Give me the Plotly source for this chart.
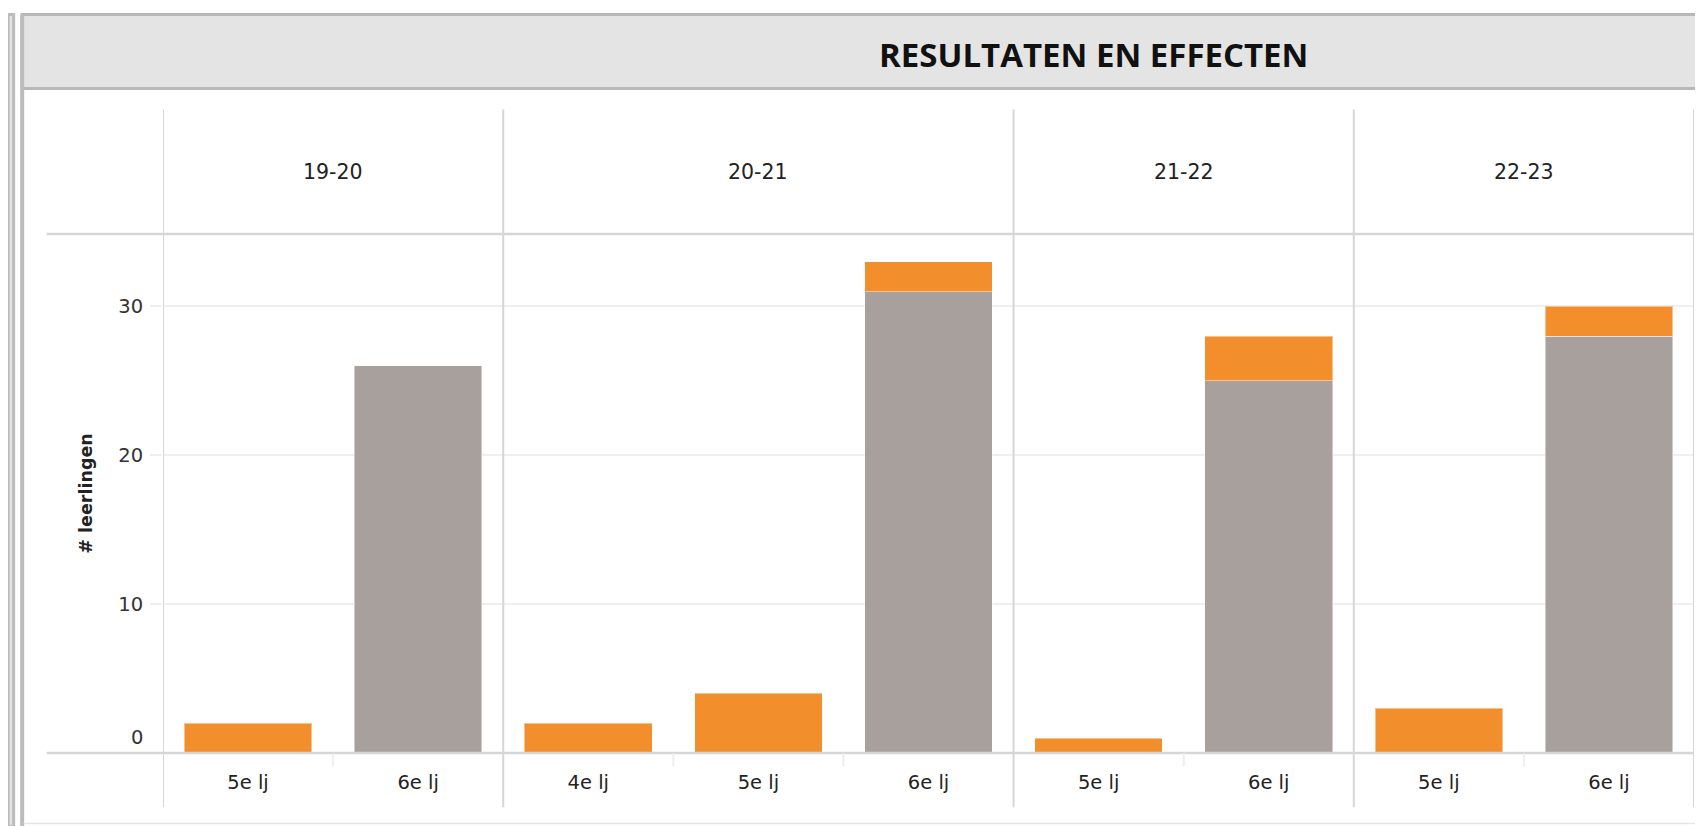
import plotly.graph_objects as go

# ---------------- data ----------------
years = ["19-20", "20-21", "21-22", "22-23"]
grades = [["5e lj", "6e lj"], ["4e lj", "5e lj", "6e lj"], ["5e lj", "6e lj"], ["5e lj", "6e lj"]]
grey_values = [[0, 26], [0, 0, 31], [0, 25], [0, 28]]
orange_values = [[2, 0], [2, 4, 2], [1, 3], [3, 2]]
y_ticks = [10, 20, 30]
y_title = "# leerlingen"
title = "RESULTATEN EN EFFECTEN"

GREY = "#A8A09C"
ORANGE = "#F28E2B"
LINE = "#d6d6d6"

# ---------------- layout geometry (page pixels) ----------------
OFF = 8  # default body margin of the html page
W, H = 1703, 826
L, R, T, B = 163.3, 9, 234.3, 73.3
PW = W - L - R
PH = H - T - B


def px_x(px):
    return (px - L) / PW


def px_y(py):
    return (H - B - py) / PH


# flatten
xs, labels, g_flat, o_flat = [], [], [], []
idx = 0
group_centers, boundaries = [], [-0.5]
for yi, yr in enumerate(years):
    start = idx
    for gi, gr in enumerate(grades[yi]):
        xs.append(idx)
        labels.append(gr)
        g_flat.append(grey_values[yi][gi])
        o_flat.append(orange_values[yi][gi])
        idx += 1
    group_centers.append((start + idx - 1) / 2)
    boundaries.append(idx - 0.5)

fig = go.Figure()
fig.add_trace(go.Bar(x=xs, y=g_flat, name="Reeks 1", marker_color=GREY,
                     marker_line=dict(width=1, color="rgba(255,255,255,0.45)"),
                     hoverinfo="y"))
fig.add_trace(go.Bar(x=xs, y=o_flat, name="Reeks 2", marker_color=ORANGE,
                     marker_line=dict(width=1, color="rgba(255,255,255,0.45)"),
                     hoverinfo="y"))

shapes = []
# neighbour panel / main panel border
shapes.append(dict(type="rect", xref="paper", yref="paper", x0=px_x(8.5), x1=px_x(14),
                   y0=px_y(H), y1=px_y(15), fillcolor="#e2e2e2",
                   line=dict(width=3, color="#bcbcbc"), layer="below"))
shapes.append(dict(type="line", xref="paper", yref="paper", x0=px_x(22.5), x1=px_x(22.5),
                   y0=px_y(H), y1=px_y(15), line=dict(width=4, color="#bcbcbc")))
# title bar
shapes.append(dict(type="rect", xref="paper", yref="paper", x0=px_x(22.5), x1=px_x(W + 10),
                   y0=px_y(89), y1=px_y(15), fillcolor="#e4e4e4",
                   line=dict(width=3, color="#b8b8b8"), layer="below"))
# bottom faint border
shapes.append(dict(type="line", xref="paper", yref="paper", x0=px_x(24), x1=px_x(W),
                   y0=px_y(823), y1=px_y(823), line=dict(width=1.5, color="#e6e6e6")))
# header separator line and zero baseline
for yy in (1.0, 0.0):
    shapes.append(dict(type="line", xref="paper", yref="paper", x0=px_x(47), x1=1,
                       y0=yy, y1=yy, line=dict(width=2.5, color=LINE)))
# group dividers
for bnd in boundaries:
    shapes.append(dict(type="line", xref="x", yref="paper", x0=bnd, x1=bnd,
                       y0=px_y(807), y1=px_y(110), line=dict(width=2, color=LINE)))
# small ticks between categories inside a group
for k in range(len(xs) - 1):
    b = k + 0.5
    if b not in boundaries:
        shapes.append(dict(type="line", xref="x", yref="paper", x0=b, x1=b,
                           y0=px_y(753), y1=px_y(766), line=dict(width=2, color="#eeeeee")))

annotations = []
annotations.append(dict(text="<b>" + title + "</b>", xref="paper", yref="paper",
                        x=px_x(1094), y=px_y(55), xanchor="center", yanchor="middle",
                        showarrow=False, font=dict(family="Open Sans", size=33, color="#111111")))
for c, yr in zip(group_centers, years):
    annotations.append(dict(text=yr, xref="x", yref="paper", x=c, y=px_y(172),
                            xanchor="center", yanchor="middle", showarrow=False,
                            font=dict(family="DejaVu Sans", size=20.5, color="#222222")))
annotations.append(dict(text="<b>" + y_title + "</b>", xref="paper", yref="paper",
                        x=px_x(86), y=px_y(494), textangle=-90, xanchor="center",
                        yanchor="middle", showarrow=False,
                        font=dict(family="DejaVu Sans", size=17.5, color="#222222")))
annotations.append(dict(text="0", xref="paper", yref="y", x=px_x(145), y=0, yshift=16,
                        xanchor="right", yanchor="middle", showarrow=False,
                        font=dict(family="DejaVu Sans", size=19.5, color="#333333")))

fig.update_layout(
    width=W - OFF, height=H - OFF,
    margin=dict(l=L - OFF, r=R, t=T - OFF, b=B, pad=0),
    paper_bgcolor="white", plot_bgcolor="white",
    barmode="stack", bargap=0.25, showlegend=False,
    shapes=shapes, annotations=annotations,
    font=dict(family="DejaVu Sans", color="#333333"),
    xaxis=dict(range=[-0.5, len(xs) - 0.5], tickvals=xs, ticktext=labels,
               showgrid=False, zeroline=False, showline=False, ticks="",
               ticklabelstandoff=15, tickfont=dict(size=19.5, color="#222222"),
               fixedrange=True),
    yaxis=dict(range=[0, (H - B - T) / ((H - B - 604) / 10)], tickvals=y_ticks,
               showgrid=True, gridcolor="#efefef", gridwidth=1.5,
               zeroline=False, showline=False, ticks="outside", ticklen=12,
               tickcolor="#efefef", tickwidth=1.5, ticklabelstandoff=3,
               tickfont=dict(size=19.5, color="#333333"), fixedrange=True),
)

fig.write_html("out.html")
